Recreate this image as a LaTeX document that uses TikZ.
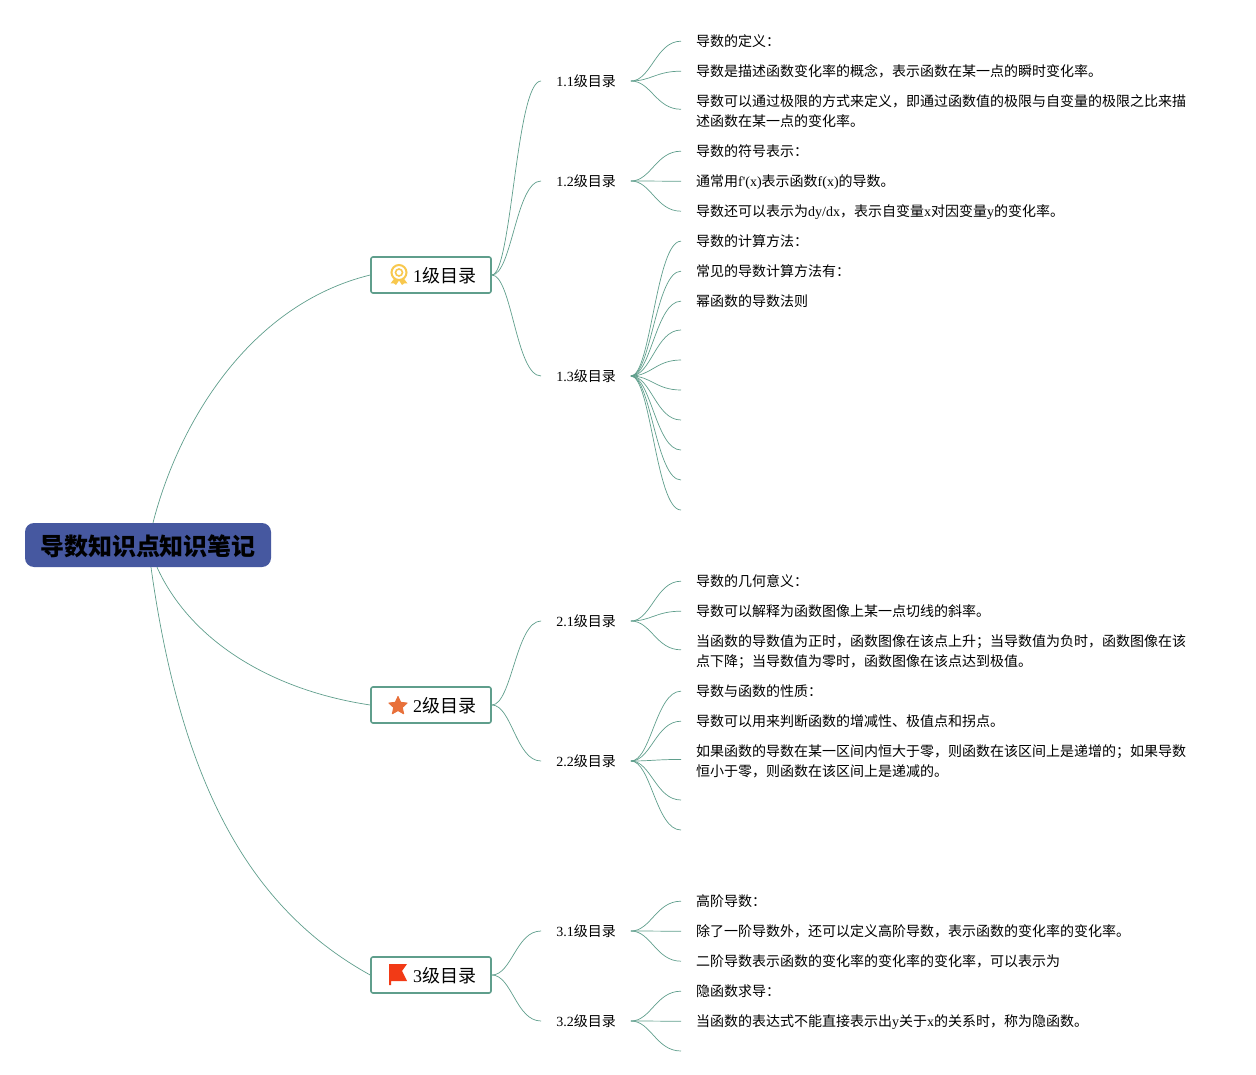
\documentclass[tikz,border=0pt]{standalone}
\usepackage{fontspec}
\setmainfont{Liberation Serif}
\newfontfamily\cjfont{Noto Sans CJK SC}
\newfontfamily\plainfont{Liberation Serif}
\newcommand{\cj}[1]{{\cjfont #1}}
\newcommand{\dou}{\symbol{"FF0C}}
\newcommand{\fen}{\symbol{"FF1B}}
\newcommand{\mao}{\symbol{"FF1A}}
\newcommand{\branch}[2]{\draw[link] (#1) .. controls +(20,0) and +(-25,0) .. (#2);}
\newcommand{\leafstrut}{\rule[-5pt]{0pt}{20pt}}
\setlength{\lineskiplimit}{-20pt}
\usetikzlibrary{shapes.geometric}
\definecolor{linkgreen}{HTML}{5F9E8C}
\definecolor{rootblue}{HTML}{4658A0}
\definecolor{medalyellow}{HTML}{F8C84E}
\definecolor{staronge}{HTML}{E8703A}
\definecolor{flagred}{HTML}{F23A16}

\begin{document}
\begin{tikzpicture}[x=1pt, y=-1pt, every node/.style={font=\fontsize{14}{20}\selectfont},
	link/.style={draw=linkgreen, line width=0.7pt},
	root/.style={fill=rootblue, rounded corners=9pt, minimum width=246pt, minimum height=44pt, inner sep=0pt, font=\fontsize{24}{28}\selectfont\cjfont\bfseries},
	topic/.style={draw=linkgreen, line width=1.6pt, fill=white, rounded corners=2pt, minimum width=120pt, minimum height=36pt, inner sep=0pt, font=\fontsize{18}{22}\selectfont},
	sub/.style={inner xsep=15pt, inner ysep=0pt},
	leaf/.style={anchor=north west, inner xsep=15pt, inner ysep=0pt, align=left}]
	\useasboundingbox (0,0) rectangle (1256,1075);
	\node[root] (main) at (148,545) {\raisebox{-10pt}[0pt][0pt]{导数知识点知识笔记}};
	\node[topic] (t1) at (431,275) {\hspace{27pt}\raisebox{-7.5pt}[0pt][0pt]{1\cj{级目录}}};
	\node[topic] (t2) at (431,705) {\hspace{27pt}\raisebox{-7.5pt}[0pt][0pt]{2\cj{级目录}}};
	\node[topic] (t3) at (431,975) {\hspace{27pt}\raisebox{-7.5pt}[0pt][0pt]{3\cj{级目录}}};
	\draw[link] ([xshift=5pt]main.north) .. controls (178,425) and (248,305) .. (t1.west);
	\draw[link] ([xshift=9pt]main.south) .. controls (190,640) and (270,690) .. (t2.west);
	\draw[link] ([xshift=3pt]main.south) .. controls (181,783) and (249,908) .. (t3.west);
	% sub topics
	\foreach \n/\p/\lab/\y in {11/t1/1.1/81, 12/t1/1.2/181, 13/t1/1.3/376, 21/t2/2.1/621, 22/t2/2.2/761, 31/t3/3.1/931, 32/t3/3.2/1021} {
		\node[sub] (s\n) at (586,\y) {\raisebox{-1pt}{\lab\cj{级目录}}};
		\branch{\p.east}{s\n.west}
	}
	% leaves with text
	\foreach \p/\n/\y/\txt in {
		11/a/41/{\cj{导数的定义\mao}},
		11/b/71/{\cj{导数是描述函数变化率的概念\dou 表示函数在某一点的瞬时变化率。}},
		11/c/101/{\cj{导数可以通过极限的方式来定义\dou 即通过函数值的极限与自变量的极限之比来描}\\\cj{述函数在某一点的变化率。}},
		12/a/151/{\cj{导数的符号表示\mao}},
		12/b/181/{\cj{通常用}f{\plainfont\symbol{39}}(x)\cj{表示函数}f(x)\cj{的导数。}},
		12/c/211/{\cj{导数还可以表示为}dy/dx\cj{\dou 表示自变量}x\cj{对因变量}y\cj{的变化率。}},
		13/a/241/{\cj{导数的计算方法\mao}},
		13/b/271/{\cj{常见的导数计算方法有\mao}},
		13/c/301/{\cj{幂函数的导数法则}},
		21/a/581/{\cj{导数的几何意义\mao}},
		21/b/611/{\cj{导数可以解释为函数图像上某一点切线的斜率。}},
		21/c/641/{\cj{当函数的导数值为正时\dou 函数图像在该点上升\fen 当导数值为负时\dou 函数图像在该}\\\cj{点下降\fen 当导数值为零时\dou 函数图像在该点达到极值。}},
		22/a/691/{\cj{导数与函数的性质\mao}},
		22/b/721/{\cj{导数可以用来判断函数的增减性、极值点和拐点。}},
		22/c/751/{\cj{如果函数的导数在某一区间内恒大于零\dou 则函数在该区间上是递增的\fen 如果导数}\\\cj{恒小于零\dou 则函数在该区间上是递减的。}},
		31/a/901/{\cj{高阶导数\mao}},
		31/b/931/{\cj{除了一阶导数外\dou 还可以定义高阶导数\dou 表示函数的变化率的变化率。}},
		31/c/961/{\cj{二阶导数表示函数的变化率的变化率的变化率\dou 可以表示为}},
		32/a/991/{\cj{隐函数求导\mao}},
		32/b/1021/{\cj{当函数的表达式不能直接表示出}y\cj{关于}x\cj{的关系时\dou 称为隐函数。}}} {
		\node[leaf] (l\p\n) at (681,\y-10) {\leafstrut\txt};
		\branch{s\p.east}{l\p\n.west}
	}
	% empty branches
	\foreach \p/\n/\y in {13/d/330, 13/e/360, 13/f/390, 13/g/420, 13/h/450, 13/i/480, 13/j/510, 22/d/800, 22/e/830, 32/c/1051} {
		\coordinate (e\p\n) at (681,\y);
		\branch{s\p.east}{e\p\n}
	}
	% icons
	\begin{scope}[shift={(399,272.5)}]
		\fill[color=medalyellow] (-4,5) -- (-8.5,11) -- (-5,11) -- (-3,12.5) -- (0,8) -- (3,12.5) -- (5,11) -- (8.5,11) -- (4,5) -- cycle;
		\draw[color=medalyellow, fill=white, line width=2pt] (0,0) circle (7.5);
		\draw[color=medalyellow, line width=1.6pt] (0,0) circle (3.5);
	\end{scope}
	\node[star, star points=5, star point ratio=2.1, fill=staronge, draw=staronge, line join=round, line width=1pt, minimum size=19pt, inner sep=0pt] (icon2) at (398,706) {};
	\fill[color=flagred] (389,964) -- (407,964) -- (402,971) -- (407,981) -- (391,981) -- (391,985) -- (389,985) -- cycle;
\end{tikzpicture}
\end{document}
